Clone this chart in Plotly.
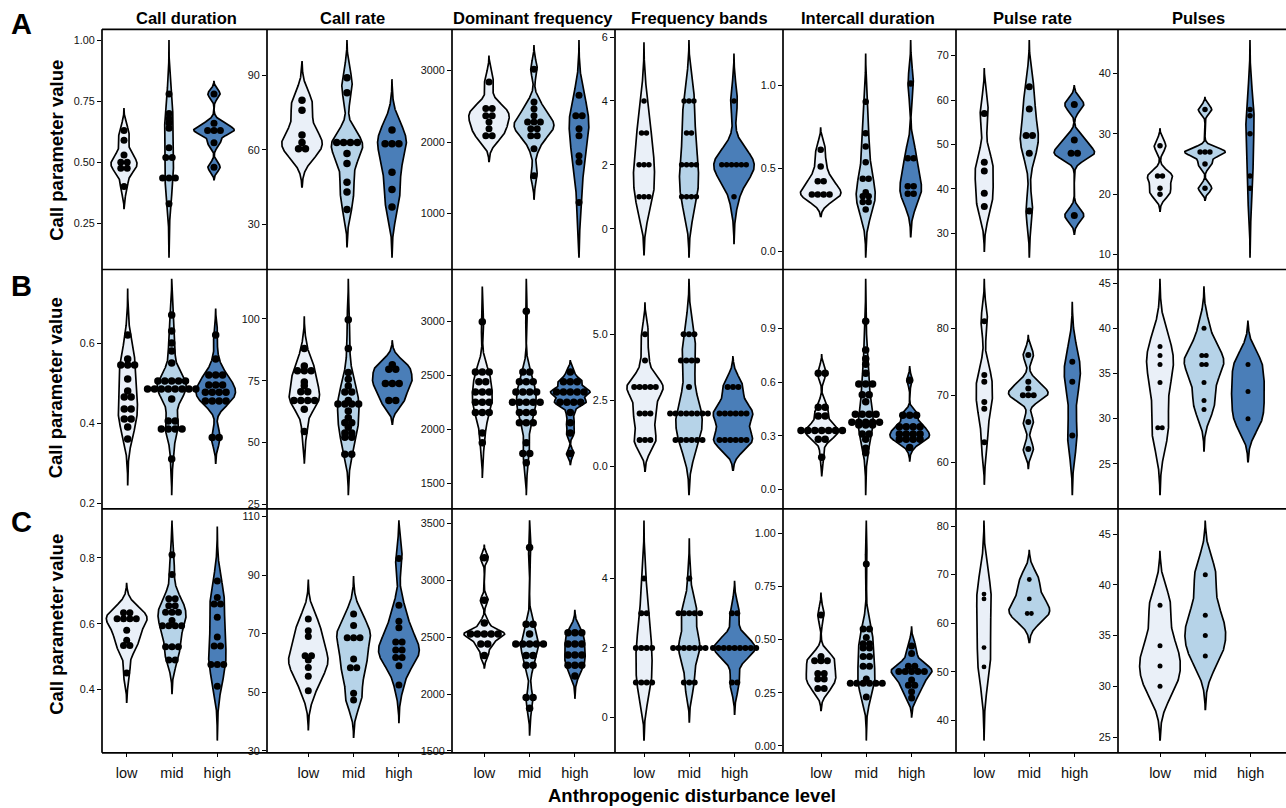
import numpy as np
import plotly.graph_objects as go

W, H = 1286, 808
levels = ["low", "mid", "high"]
parameters = ["Call duration", "Call rate", "Dominant frequency", "Frequency bands",
              "Intercall duration", "Pulse rate", "Pulses"]
row_letters = ["A", "B", "C"]
fills = ["#EAF0F8", "#B6D3E8", "#4A7EB8"]

# ---------------- Row A (values per level: low, mid, high) ----------------
a_call_duration = [
    [0.63, 0.59, 0.53, 0.50, 0.50, 0.475, 0.475, 0.40],
    [0.78, 0.70, 0.68, 0.66, 0.64, 0.56, 0.52, 0.52, 0.435, 0.435, 0.435, 0.33],
    [0.78, 0.66, 0.63, 0.63, 0.63, 0.58, 0.48],
]
a_call_rate = [
    [80, 76, 66, 63, 60.5, 60.5],
    [89, 83, 63, 63, 63, 63, 58.5, 54.5, 47, 43, 36],
    [68, 62.5, 62.5, 62.5, 51, 44, 37],
]
a_dominant_frequency = [
    [2840, 2470, 2470, 2370, 2370, 2280, 2185, 2090, 2090],
    [3020, 2560, 2465, 2370, 2280, 2280, 2280, 2185, 2185, 2090, 2090, 1905, 1530],
    [2655, 2370, 2370, 2185, 2090, 1810, 1720, 1155],
]
a_frequency_bands = [
    [4, 3, 3, 2, 2, 2, 1, 1, 1],
    [4, 4, 4, 3, 3, 2, 2, 2, 2, 1, 1, 1, 1],
    [4, 2, 2, 2, 2, 2, 2, 1],
]
a_intercall_duration = [
    [0.61, 0.51, 0.42, 0.42, 0.34, 0.34, 0.34, 0.34],
    [0.90, 0.71, 0.63, 0.535, 0.435, 0.435, 0.355, 0.33, 0.33, 0.295, 0.295, 0.25],
    [1.01, 0.56, 0.56, 0.39, 0.39, 0.345, 0.345],
]
a_pulse_rate = [
    [57, 46, 44, 39, 36],
    [63, 58, 52, 52, 48, 35],
    [59, 51, 48, 48, 34],
]
a_pulses = [
    [28, 23, 23, 21, 20],
    [34, 27, 27, 27, 25, 21],
    [34, 33, 30, 23, 21],
]

# ---------------- Row B ----------------
b_call_duration = [
    [0.62, 0.56, 0.545, 0.545, 0.545, 0.51, 0.48, 0.465, 0.465, 0.435, 0.435,
     0.41, 0.41, 0.39, 0.36],
    [0.67, 0.63, 0.60, 0.58, 0.55, 0.505, 0.505, 0.505, 0.505, 0.505,
     0.485, 0.485, 0.485, 0.485, 0.485, 0.485, 0.485, 0.485, 0.46, 0.405, 0.405,
     0.385, 0.385, 0.385, 0.385, 0.31],
    [0.62, 0.56, 0.52, 0.52, 0.52, 0.495, 0.495, 0.495, 0.477, 0.477, 0.477, 0.477,
     0.455, 0.455, 0.455, 0.455, 0.364, 0.364],
]
b_call_rate = [
    [88, 81, 79, 79, 79, 74.5, 73, 70.5, 70.5, 67, 67, 67, 67, 63.5, 54.5],
    [99.7, 88, 78.3, 75.6, 72.9, 70.4, 70.4, 67, 65.6, 65.6, 65.6, 65.6, 62.8, 60,
     58, 58, 56.2, 53.8, 53.8, 52.1, 52.1, 45.2, 45.2],
    [81.5, 79.7, 79.7, 73.9, 73.9, 73.9, 67, 67],
]
b_dominant_frequency = [
    [2995, 2530, 2530, 2530, 2440, 2440, 2345, 2345, 2345, 2250, 2250, 2250,
     2155, 2155, 2155, 1965, 1875],
    [3090, 2530, 2530, 2440, 2440, 2440, 2345, 2345, 2345, 2345, 2250, 2250, 2250,
     2250, 2250, 2155, 2155, 2155, 2060, 2060, 2060, 1875, 1775, 1775, 1690],
    [2530, 2440, 2440, 2440, 2345, 2345, 2345, 2345, 2345, 2250, 2250, 2250, 2250,
     2155, 2060, 1965, 1775],
]
b_frequency_bands = [
    [5, 4, 3, 3, 3, 3, 3, 2, 2, 2, 1, 1, 1],
    [5, 5, 5, 4, 4, 4, 4, 3, 2, 2, 2, 2, 2, 2, 2, 2, 1, 1, 1, 1, 1, 1],
    [3, 3, 3, 2, 2, 2, 2, 2, 2, 1, 1, 1, 1, 1, 1],
]
b_intercall_duration = [
    [0.65, 0.65, 0.46, 0.46, 0.41, 0.41, 0.33, 0.33, 0.33, 0.33, 0.33, 0.33, 0.33,
     0.28, 0.28, 0.18],
    [0.94, 0.78, 0.73, 0.70, 0.65, 0.59, 0.59, 0.59, 0.53, 0.53, 0.49, 0.42, 0.42,
     0.42, 0.42, 0.375, 0.375, 0.375, 0.375, 0.375, 0.36, 0.36, 0.36, 0.31, 0.31,
     0.28, 0.23, 0.205],
    [0.61, 0.415, 0.415, 0.415, 0.35, 0.35, 0.35, 0.35, 0.31, 0.31, 0.31, 0.31,
     0.28, 0.28, 0.28, 0.28, 0.235],
]
b_pulse_rate = [
    [81, 73, 72, 69, 68, 63],
    [76, 72, 71, 70, 70, 70, 66, 62],
    [75, 72, 64],
]
b_pulses = [
    [38, 37, 36, 34, 29, 29],
    [40, 37, 37, 36, 36, 34, 32, 31],
    [36, 33, 30],
]

# ---------------- Row C ----------------
c_call_duration = [
    [0.633, 0.633, 0.615, 0.615, 0.615, 0.615, 0.58, 0.55, 0.534, 0.534, 0.45],
    [0.81, 0.75, 0.676, 0.676, 0.655, 0.655, 0.635, 0.635, 0.635, 0.61,
     0.594, 0.594, 0.594, 0.594, 0.53, 0.53, 0.53, 0.49, 0.49],
    [0.73, 0.68, 0.66, 0.66, 0.62, 0.56, 0.532, 0.532, 0.476, 0.476, 0.476, 0.41],
]
c_call_rate = [
    [75, 71, 69, 62.5, 62.5, 61, 58.5, 55.5, 50.5],
    [76.7, 72.8, 68.6, 68.6, 68.6, 61.4, 58.4, 58.4, 49.7, 47.4],
    [95.6, 79.7, 74.2, 72, 67.2, 67.2, 64.4, 64.4, 61.9, 61.9, 59.1, 52.5],
]
c_dominant_frequency = [
    [3200, 2825, 2625, 2530, 2530, 2530, 2530, 2530, 2440, 2440, 2340],
    [3290, 2615, 2615, 2530, 2440, 2440, 2440, 2440, 2440, 2340, 2340, 2255, 2255,
     1970, 1970, 1875],
    [2540, 2540, 2540, 2440, 2440, 2440, 2345, 2345, 2345, 2255, 2255, 2255, 2160],
]
c_frequency_bands = [
    [4, 3, 3, 2, 2, 2, 2, 1, 1, 1, 1],
    [4, 3, 3, 3, 3, 3, 2, 2, 2, 2, 2, 2, 2, 1, 1, 1],
    [3, 3, 2, 2, 2, 2, 2, 2, 2, 2, 2, 1, 1],
]
c_intercall_duration = [
    [0.615, 0.42, 0.40, 0.40, 0.40, 0.34, 0.34, 0.315, 0.315, 0.27, 0.27],
    [0.855, 0.55, 0.55, 0.51, 0.48, 0.48, 0.46, 0.46, 0.42, 0.42, 0.375, 0.375,
     0.315, 0.295, 0.295, 0.295, 0.295, 0.295, 0.295, 0.23],
    [0.47, 0.435, 0.375, 0.375, 0.35, 0.35, 0.35, 0.35, 0.35, 0.31, 0.285, 0.285,
     0.255, 0.225],
]
c_pulse_rate = [
    [66, 65, 55, 51],
    [69, 65, 62, 62],
    [],
]
c_pulses = [
    [38, 34, 32, 30],
    [41, 37, 35, 33],
    [],
]

# ---------------- y tick values per panel ----------------
a_ticks = [[0.25, 0.50, 0.75, 1.00], [30, 60, 90], [1000, 2000, 3000], [0, 2, 4, 6],
           [0.0, 0.5, 1.0], [30, 40, 50, 60, 70], [10, 20, 30, 40]]
b_ticks = [[0.2, 0.4, 0.6], [25, 50, 75, 100], [1500, 2000, 2500, 3000], [0.0, 2.5, 5.0],
           [0.0, 0.3, 0.6, 0.9], [60, 70, 80], [25, 30, 35, 40, 45]]
c_ticks = [[0.4, 0.6, 0.8], [30, 50, 70, 90, 110], [1500, 2000, 2500, 3000, 3500], [0, 2, 4],
           [0.00, 0.25, 0.50, 0.75, 1.00], [40, 50, 60, 70, 80], [25, 30, 35, 40, 45]]

rows_data = [
    [a_call_duration, a_call_rate, a_dominant_frequency, a_frequency_bands,
     a_intercall_duration, a_pulse_rate, a_pulses],
    [b_call_duration, b_call_rate, b_dominant_frequency, b_frequency_bands,
     b_intercall_duration, b_pulse_rate, b_pulses],
    [c_call_duration, c_call_rate, c_dominant_frequency, c_frequency_bands,
     c_intercall_duration, c_pulse_rate, c_pulses],
]
rows_ticks = [a_ticks, b_ticks, c_ticks]

# ---------------- layout geometry (pixels) ----------------
col_lines = [102, 267, 452, 615, 783, 956, 1118]
row_top = [29.2, 269.6, 512.6]
row_bot = [270.4, 509.3, 756.3]
hlines = [29.5, 271.2, 512, 757.5]
low_px = [[124, 302, 489, 644, 820.7, 984.3, 1160],
          [127.7, 304.3, 482.3, 645, 821.7, 984.3, 1160],
          [126.7, 308.3, 484.3, 644, 821, 984, 1160]]
unit_px = [45, 44, 45.3]
dot_px = [[7, 7.5, 7, 5.5, 6.5, 7, 5.5],
          [7.5, 7.5, 7.5, 6, 7.5, 6, 5],
          [7, 7, 7.5, 6, 7, 4.8, 5]]
title_x = [186, 352.5, 533, 699.5, 867.5, 1032, 1198.7]
FONT = "Liberation Sans, Arial, Helvetica, sans-serif"


def bw_nrd0(v):
    hi = np.std(v, ddof=1)
    q75, q25 = np.percentile(v, [75, 25])
    lo = min(hi, (q75 - q25) / 1.34)
    if not lo:
        lo = hi or abs(v[0]) or 1.0
    return 0.9 * lo * len(v) ** -0.2


def kde(v, bw, grid):
    z = (grid[:, None] - v[None, :]) / bw
    return np.exp(-0.5 * z ** 2).sum(axis=1) / (len(v) * bw * np.sqrt(2 * np.pi))


def fmt_ticks(ticks):
    d = 0
    while d < 4 and any(abs(t * 10 ** d - round(t * 10 ** d)) > 1e-9 for t in ticks):
        d += 1
    return [f"{t:.{d}f}" for t in ticks]


fig = go.Figure()
layout = dict(width=W, height=H, margin=dict(l=0, r=0, t=0, b=0),
              paper_bgcolor="white", plot_bgcolor="rgba(0,0,0,0)", showlegend=False)

n = 0
for r in range(3):
    for c in range(7):
        n += 1
        xref = "x" if n == 1 else f"x{n}"
        yref = "y" if n == 1 else f"y{n}"
        groups = rows_data[r][c]
        ticks = rows_ticks[r][c]
        sp = unit_px[r]

        dens = []
        for g in groups:
            if len(g) < 2:
                dens.append(None)
                continue
            v = np.asarray(g, float)
            bw = bw_nrd0(v)
            grid = np.linspace(v.min() - 3 * bw, v.max() + 3 * bw, 512)
            dens.append((grid, kde(v, bw, grid)))
        dmax = max(d[1].max() for d in dens if d is not None)
        ylo = min(d[0][0] for d in dens if d is not None)
        yhi = max(d[0][-1] for d in dens if d is not None)
        span = yhi - ylo
        ylo, yhi = ylo - 0.05 * span, yhi + 0.05 * span
        ylo = min(ylo, min(ticks) - 0.003 * span)
        yhi = max(yhi, max(ticks) + 0.003 * span)

        # violins
        for k, d in enumerate(dens):
            if d is None:
                continue
            grid, dd = d
            half = dd / dmax * 0.45
            xc = k + 1
            xs = np.concatenate([xc + half, (xc - half)[::-1]])
            ys = np.concatenate([grid, grid[::-1]])
            fig.add_trace(go.Scatter(x=xs, y=ys, mode="lines", fill="toself",
                                     fillcolor=fills[k],
                                     line=dict(color="black", width=1.7),
                                     hoverinfo="skip", xaxis=xref, yaxis=yref))
        # centred dot stacks
        step = (dot_px[r][c] - 0.6) / sp
        for k, g in enumerate(groups):
            if len(g) == 0:
                continue
            vals, counts = np.unique(np.round(np.asarray(g, float), 6), return_counts=True)
            px, py = [], []
            for val, cnt in zip(vals, counts):
                offs = (np.arange(cnt) - (cnt - 1) / 2) * step
                px.extend(k + 1 + offs)
                py.extend([val] * cnt)
            fig.add_trace(go.Scatter(x=px, y=py, mode="markers",
                                     marker=dict(color="black", size=dot_px[r][c],
                                                 line=dict(width=0)),
                                     hoverinfo="skip", xaxis=xref, yaxis=yref))

        xl = col_lines[c]
        xr = col_lines[c + 1] if c < 6 else W
        x0 = 1 - (low_px[r][c] - xl) / sp
        x1 = x0 + (xr - xl) / sp
        xa = dict(domain=[xl / W, xr / W], range=[x0, x1], anchor=yref,
                  showgrid=False, zeroline=False, showline=False)
        if r == 2:
            xa.update(tickmode="array", tickvals=[1, 2, 3], ticktext=levels,
                      ticks="outside", ticklen=4, tickwidth=1.4, tickcolor="black",
                      ticklabelstandoff=4,
                      tickfont=dict(family=FONT, size=14.5, color="#111"))
        else:
            xa.update(showticklabels=False, ticks="")
        ya = dict(domain=[1 - row_bot[r] / H, 1 - row_top[r] / H], range=[ylo, yhi],
                  anchor=xref, showgrid=False, zeroline=False, showline=False,
                  tickmode="array", tickvals=ticks, ticktext=fmt_ticks(ticks),
                  ticks="outside", ticklen=4, tickwidth=1.4, tickcolor="black",
                  tickfont=dict(family=FONT, size=10.8, color="#111"))
        layout["xaxis" if n == 1 else f"xaxis{n}"] = xa
        layout["yaxis" if n == 1 else f"yaxis{n}"] = ya

# frame lines
shapes = []
for yy in hlines:
    shapes.append(dict(type="line", xref="paper", yref="paper",
                       x0=col_lines[0] / W, x1=1, y0=1 - yy / H, y1=1 - yy / H,
                       line=dict(color="black", width=1.7)))
for xx in col_lines:
    shapes.append(dict(type="line", xref="paper", yref="paper",
                       x0=xx / W, x1=xx / W, y0=1 - hlines[-1] / H, y1=1 - hlines[0] / H,
                       line=dict(color="black", width=1.7)))
layout["shapes"] = shapes

ann = []
for c, name in enumerate(parameters):
    ann.append(dict(text=f"<b>{name}</b>", x=title_x[c] / W, y=1 - 18.5 / H,
                    xref="paper", yref="paper", showarrow=False, xanchor="center",
                    yanchor="middle", font=dict(family=FONT, size=16.5, color="black")))
letter_y = [23.7, 287.5, 525]
ylab_y = [151, 390, 628]
for r in range(3):
    ann.append(dict(text=f"<b>{row_letters[r]}</b>", x=21 / W, y=1 - letter_y[r] / H,
                    xref="paper", yref="paper", showarrow=False, xanchor="center",
                    yanchor="middle", font=dict(family=FONT, size=29, color="black")))
    ann.append(dict(text="<b>Call parameter value</b>", x=55.7 / W, y=1 - ylab_y[r] / H,
                    xref="paper", yref="paper", showarrow=False, xanchor="center",
                    yanchor="middle", textangle=-90,
                    font=dict(family=FONT, size=18.5, color="black")))
ann.append(dict(text="<b>Anthropogenic disturbance level</b>", x=691.5 / W, y=1 - 800 / H,
                xref="paper", yref="paper", showarrow=False, xanchor="center",
                yanchor="middle", font=dict(family=FONT, size=18.5, color="black")))
layout["annotations"] = ann

fig.update_layout(**layout)
fig.write_html("out.html", config={"displayModeBar": False},
               post_script="document.body.style.margin='0';document.body.style.padding='0';")
